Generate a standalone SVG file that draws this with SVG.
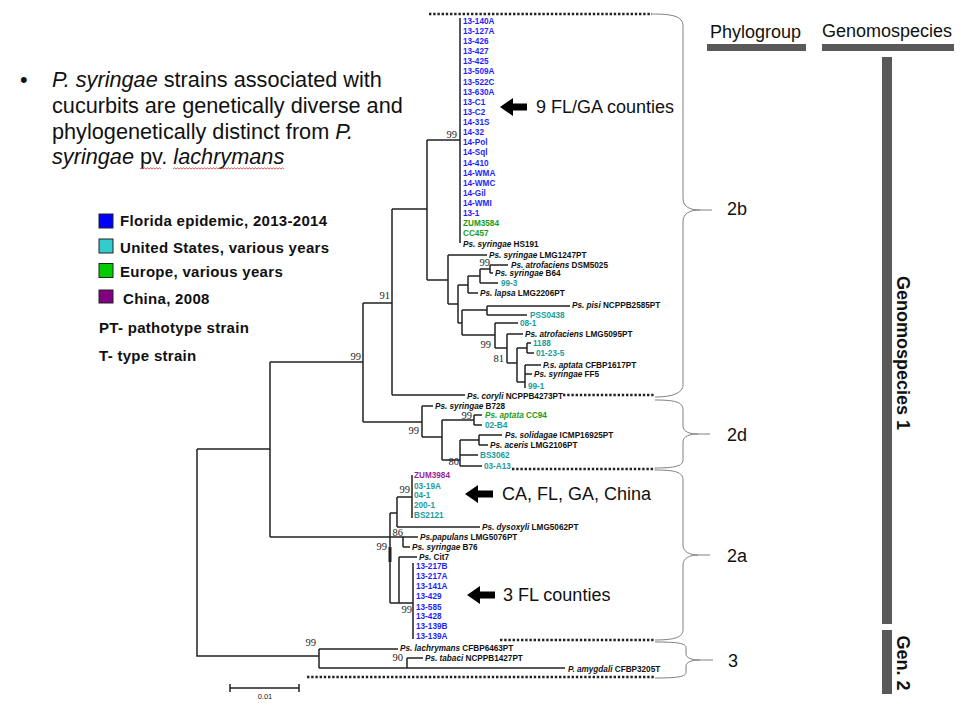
<svg xmlns="http://www.w3.org/2000/svg" width="977" height="716" viewBox="0 0 977 716">
<style>
.t{font-family:"Liberation Sans",Arial,sans-serif}
.lf{font-family:"Liberation Sans",Arial,sans-serif;font-size:8.2px;font-weight:bold}
.bs{font-family:"Liberation Serif","Times New Roman",serif;font-size:10.5px;fill:#222;text-anchor:end}
.b{fill:#1f1fff}.c{fill:#1a9c9c}.g{fill:#1a9a1a}.p{fill:#9a1f9a}.k{fill:#111}
.i{font-style:italic}
.lg{font-family:"Liberation Sans",Arial,sans-serif;font-size:15px;font-weight:bold;letter-spacing:0.3px;fill:#111}
.br{fill:none;stroke:#808080;stroke-width:1}
.dot{fill:none;stroke:#222;stroke-width:2.4;stroke-dasharray:2.4 1.8}
.bar{fill:#595959}
.big{font-family:"Liberation Sans",Arial,sans-serif;font-size:18px;fill:#111}
</style>
<rect width="977" height="716" fill="#fff"/>

<g id="bullet">
<text class="t" x="20" y="87" font-size="21.7" fill="#111">•</text>
<text class="t" x="52" y="87" font-size="21.7" fill="#111"><tspan class="i">P. syringae</tspan> strains associated with</text>
<text class="t" x="52" y="112.8" font-size="21.7" fill="#111">cucurbits are genetically diverse and</text>
<text class="t" x="52" y="138.6" font-size="21.7" fill="#111">phylogenetically distinct from <tspan class="i">P.</tspan></text>
<text class="t" x="52" y="164.4" font-size="21.7" fill="#111"><tspan class="i">syringae</tspan> pv. <tspan class="i">lachrymans</tspan></text>
<path fill="none" stroke="#e03030" stroke-width="0.8" d="M140,169 l1.5,-1.2 l1.5,1.2 l1.5,-1.2 l1.5,1.2 l1.5,-1.2 l1.5,1.2 l1.5,-1.2 l1.5,1.2 l1.5,-1.2 l1.5,1.2 l1.5,-1.2 l1.5,1.2 l1.5,-1.2 l1.5,1.2"/>
<path fill="none" stroke="#e03030" stroke-width="0.8" d="M173,169 l1.5,-1.2 l1.5,1.2 l1.5,-1.2 l1.5,1.2 l1.5,-1.2 l1.5,1.2 l1.5,-1.2 l1.5,1.2 l1.5,-1.2 l1.5,1.2 l1.5,-1.2 l1.5,1.2 l1.5,-1.2 l1.5,1.2 l1.5,-1.2 l1.5,1.2 l1.5,-1.2 l1.5,1.2 l1.5,-1.2 l1.5,1.2 l1.5,-1.2 l1.5,1.2 l1.5,-1.2 l1.5,1.2 l1.5,-1.2 l1.5,1.2 l1.5,-1.2 l1.5,1.2 l1.5,-1.2 l1.5,1.2 l1.5,-1.2 l1.5,1.2 l1.5,-1.2 l1.5,1.2 l1.5,-1.2 l1.5,1.2 l1.5,-1.2 l1.5,1.2 l1.5,-1.2 l1.5,1.2 l1.5,-1.2 l1.5,1.2 l1.5,-1.2 l1.5,1.2 l1.5,-1.2 l1.5,1.2 l1.5,-1.2 l1.5,1.2 l1.5,-1.2 l1.5,1.2 l1.5,-1.2 l1.5,1.2 l1.5,-1.2 l1.5,1.2 l1.5,-1.2 l1.5,1.2 l1.5,-1.2 l1.5,1.2 l1.5,-1.2 l1.5,1.2 l1.5,-1.2 l1.5,1.2 l1.5,-1.2 l1.5,1.2 l1.5,-1.2 l1.5,1.2 l1.5,-1.2 l1.5,1.2 l1.5,-1.2 l1.5,1.2 l1.5,-1.2 l1.5,1.2 l1.5,-1.2 l1.5,1.2"/>
</g>

<g id="legend">
<rect x="99" y="214" width="14" height="14" fill="#0000ff" stroke="#222" stroke-width="1"/>
<text class="lg" x="120" y="226">Florida epidemic, 2013-2014</text>
<rect x="99" y="239" width="14" height="14" fill="#33cccc" stroke="#222" stroke-width="1"/>
<text class="lg" x="120" y="253">United States, various years</text>
<rect x="99" y="263.5" width="14" height="14" fill="#00cc00" stroke="#222" stroke-width="1"/>
<text class="lg" x="120" y="277">Europe, various years</text>
<rect x="99" y="290" width="14" height="13" fill="#800080" stroke="#222" stroke-width="1"/>
<text class="lg" x="123" y="304">China, 2008</text>
<text class="lg" x="99" y="333">PT- pathotype strain</text>
<text class="lg" x="99" y="361">T- type strain</text>
</g>

<g id="connectors" fill="none" stroke="#222" stroke-width="1.5">
<path d="M197,449 H270 M197,449 V656 H319 M270,362 V537 M270,362 H363 M363,303 V422 M363,303 H392 M392,209 V395 M392,209 H427 M392,395 H465
M427,140 V280 M427,140 H460 M460,18 V243 M427,280 H448 M448,255 V304 M448,255 H487 M448,304 H458 M458,285 V323 M458,285 H468
M468,276 V293 M468,293 H478 M468,276 H480 M480,269 V283 M480,283 H498 M480,269 H490 M490,265 V273 M490,265 H508 M490,273 H493
M458,323 H462 M462,310 V335 M462,310 H487 M487,306 V315 M487,306 H570 M487,315 H527 M462,335 H495 M495,323 V348 M495,323 H518
M495,348 H507 M507,334 V363 M507,334 H523 M507,363 H517 M517,348 V382 M517,348 H527 M527,343 V353 M527,343 H531 M527,353 H534
M517,382 H525 M525,365 V388 M525,365 H541 M525,374 H532"/>
<path d="M363,422 H422 M422,406 V437 M422,406 H433 M422,437 H442 M442,420 V460 M442,420 H474 M474,415 V425 M474,415 H482 M474,425 H482
M442,460 H460 M460,440 V466 M460,440 H479 M479,435 V445 M479,435 H502 M479,445 H488 M460,455 H478 M460,466 H482"/>
<path d="M270,537 H390 M390,513 V603 M390,513 H397 M397,497 V527 M397,497 H412 M412,475 V518 M397,527 H480 M390,537 H418 M403,537 V547 M403,547 H410
M399,557 V603 M399,557 H417 M390,603 H413 M413,563 V639"/>
<path d="M390,547 V562" stroke-width="3"/>
<path d="M319,649 V668 M319,649 H398 M319,668 H565 M407,658 V668 M407,658 H423"/>
<path d="M230,688 H299 M230,684 V692 M299,684 V692"/>
</g>

<g id="leaves-2b">
<text class="lf b" x="463" y="23.7">13-140A</text>
<text class="lf b" x="463" y="33.8">13-127A</text>
<text class="lf b" x="463" y="44">13-426</text>
<text class="lf b" x="463" y="54.1">13-427</text>
<text class="lf b" x="463" y="64.2">13-425</text>
<text class="lf b" x="463" y="74.4">13-509A</text>
<text class="lf b" x="463" y="84.5">13-522C</text>
<text class="lf b" x="463" y="94.6">13-630A</text>
<text class="lf b" x="463" y="104.7">13-C1</text>
<text class="lf b" x="463" y="114.9">13-C2</text>
<text class="lf b" x="463" y="125">14-31S</text>
<text class="lf b" x="463" y="135.1">14-32</text>
<text class="lf b" x="463" y="145.3">14-Pol</text>
<text class="lf b" x="463" y="155.4">14-Sql</text>
<text class="lf b" x="463" y="165.5">14-410</text>
<text class="lf b" x="463" y="175.7">14-WMA</text>
<text class="lf b" x="463" y="185.8">14-WMC</text>
<text class="lf b" x="463" y="195.9">14-Gil</text>
<text class="lf b" x="463" y="206">14-WMI</text>
<text class="lf b" x="463" y="216.2">13-1</text>
<text class="lf g" x="463" y="226.3">ZUM3584</text>
<text class="lf g" x="463" y="236.4">CC457</text>
<text class="lf k" x="463" y="246.6"><tspan class="i">Ps. syringae</tspan> HS191</text>
<text class="lf k" x="489" y="258"><tspan class="i">Ps. syringae</tspan> LMG1247PT</text>
<text class="lf k" x="511" y="268"><tspan class="i">Ps. atrofaciens</tspan> DSM5025</text>
<text class="lf k" x="495" y="276"><tspan class="i">Ps. syringae</tspan> B64</text>
<text class="lf c" x="501" y="286">99-3</text>
<text class="lf k" x="480" y="296"><tspan class="i">Ps. lapsa</tspan> LMG2206PT</text>
<text class="lf k" x="572" y="308"><tspan class="i">Ps. pisi</tspan> NCPPB2585PT</text>
<text class="lf c" x="530" y="318">PSS0438</text>
<text class="lf c" x="520" y="326">08-1</text>
<text class="lf k" x="525" y="337"><tspan class="i">Ps. atrofaciens</tspan> LMG5095PT</text>
<text class="lf c" x="533" y="346">1188</text>
<text class="lf c" x="536" y="356">01-23-5</text>
<text class="lf k" x="543" y="368"><tspan class="i">P.s. aptata</tspan> CFBP1617PT</text>
<text class="lf k" x="534" y="377"><tspan class="i">Ps. syringae</tspan> FF5</text>
<text class="lf c" x="528" y="388.5">99-1</text>
<text class="lf k" x="467" y="399"><tspan class="i">Ps. coryli</tspan> NCPPB4273PT</text>
</g>

<g id="leaves-2d">
<text class="lf k" x="435" y="409"><tspan class="i">Ps. syringae</tspan> B728</text>
<text class="lf g" x="485" y="418"><tspan class="i">Ps. aptata</tspan> CC94</text>
<text class="lf c" x="485" y="428">02-B4</text>
<text class="lf k" x="505" y="438"><tspan class="i">Ps. solidagae</tspan> ICMP16925PT</text>
<text class="lf k" x="490" y="448"><tspan class="i">Ps. aceris</tspan> LMG2106PT</text>
<text class="lf c" x="480" y="458">BS3062</text>
<text class="lf c" x="484" y="469">03-A13</text>
</g>

<g id="leaves-2a">
<text class="lf p" x="414" y="478">ZUM3984</text>
<text class="lf c" x="414" y="489">03-19A</text>
<text class="lf c" x="414" y="498">04-1</text>
<text class="lf c" x="414" y="508">200-1</text>
<text class="lf c" x="414" y="518">BS2121</text>
<text class="lf k" x="482" y="530"><tspan class="i">Ps. dysoxyli</tspan> LMG5062PT</text>
<text class="lf k" x="420" y="540"><tspan class="i">Ps.papulans</tspan> LMG5076PT</text>
<text class="lf k" x="412" y="550"><tspan class="i">Ps. syringae</tspan> B76</text>
<text class="lf k" x="419" y="560"><tspan class="i">Ps.</tspan> Cit7</text>
<text class="lf b" x="416" y="569">13-217B</text>
<text class="lf b" x="416" y="579">13-217A</text>
<text class="lf b" x="416" y="589">13-141A</text>
<text class="lf b" x="416" y="599">13-429</text>
<text class="lf b" x="416" y="610">13-585</text>
<text class="lf b" x="416" y="619">13-428</text>
<text class="lf b" x="416" y="629">13-139B</text>
<text class="lf b" x="416" y="639">13-139A</text>
</g>

<g id="leaves-3">
<text class="lf k" x="400" y="651"><tspan class="i">Ps. lachrymans</tspan> CFBP6463PT</text>
<text class="lf k" x="425" y="661"><tspan class="i">Ps. tabaci</tspan> NCPPB1427PT</text>
<text class="lf k" x="568" y="672"><tspan class="i">P. amygdali</tspan> CFBP3205T</text>
</g>

<g id="bootstrap">
<text class="bs" x="457" y="138">99</text>
<text class="bs" x="390" y="299">91</text>
<text class="bs" x="361" y="360">99</text>
<text class="bs" x="419" y="434">99</text>
<text class="bs" x="472" y="419">99</text>
<text class="bs" x="459" y="465">80</text>
<text class="bs" x="490" y="266">99</text>
<text class="bs" x="491" y="348">99</text>
<text class="bs" x="504" y="362">81</text>
<text class="bs" x="410" y="493">99</text>
<text class="bs" x="403" y="536">86</text>
<text class="bs" x="387" y="550">99</text>
<text class="bs" x="412" y="613">99</text>
<text class="bs" x="316" y="646">99</text>
<text class="bs" x="403" y="661">90</text>
<text class="t" x="265" y="699" font-size="7.5" fill="#222" text-anchor="middle">0.01</text>
</g>

<g id="dotted">
<path class="dot" d="M429,14 H652"/>
<path class="dot" d="M563,395 H655"/>
<path class="dot" d="M512,469 H655"/>
<path class="dot" d="M500,640 H655"/>
<path class="dot" d="M307,677 H655"/>
</g>

<g id="braces">
<path class="br" d="M652,14 C672,14 683,16 683,26 L683,198 C683,207 690,210 700,210 L712,210 M700,210 C690,210 683,213 683,222 L683,385 C683,393 672,397 655,397"/>
<path class="br" d="M655,400 C675,400 683,402 683,410 L683,426 C683,432 690,434 698,434 L710,434 M698,434 C690,434 683,436 683,442 L683,460 C683,466 675,468 655,468"/>
<path class="br" d="M655,470 C675,470 683,472 683,480 L683,545 C683,552 690,555 698,555 L710,555 M698,555 C690,555 683,558 683,565 L683,630 C683,637 675,640 655,640"/>
<path class="br" d="M655,642 C677,642 686,643 686,648 L686,654 C686,658 692,660 700,660 L713,660 M700,660 C692,660 686,662 686,666 L686,672 C686,677 677,678 655,678"/>
</g>

<g id="annotations">
<path fill="#000" d="M500,107 L513,98 L513,103.5 L527,103.5 L527,110.5 L513,110.5 L513,116 Z"/>
<text class="big" x="536" y="113">9 FL/GA counties</text>
<path fill="#000" d="M465,494 L478,485 L478,490.5 L493,490.5 L493,497.5 L478,497.5 L478,503 Z"/>
<text class="big" x="502" y="500">CA, FL, GA, China</text>
<path fill="#000" d="M467,595 L480,586 L480,591.5 L495,591.5 L495,598.5 L480,598.5 L480,604 Z"/>
<text class="big" x="503" y="601">3 FL counties</text>
</g>

<g id="phylogroups">
<text class="big" x="727" y="215" font-size="19">2b</text>
<text class="big" x="727" y="441" font-size="19">2d</text>
<text class="big" x="727" y="562" font-size="19">2a</text>
<text class="big" x="728" y="667" font-size="19">3</text>
</g>

<g id="headers">
<text class="big" x="710" y="38">Phylogroup</text>
<rect class="bar" x="707" y="44" width="99" height="7"/>
<text class="big" x="822" y="37">Genomospecies</text>
<rect class="bar" x="822" y="44" width="132" height="7"/>
<rect class="bar" x="882" y="57" width="10" height="567"/>
<rect class="bar" x="882" y="630" width="10" height="64"/>
<text class="big" font-weight="bold" transform="translate(897,353) rotate(90)" text-anchor="middle">Genomospecies 1</text>
<text class="big" font-weight="bold" transform="translate(897,663) rotate(90)" text-anchor="middle">Gen. 2</text>
</g>
</svg>
